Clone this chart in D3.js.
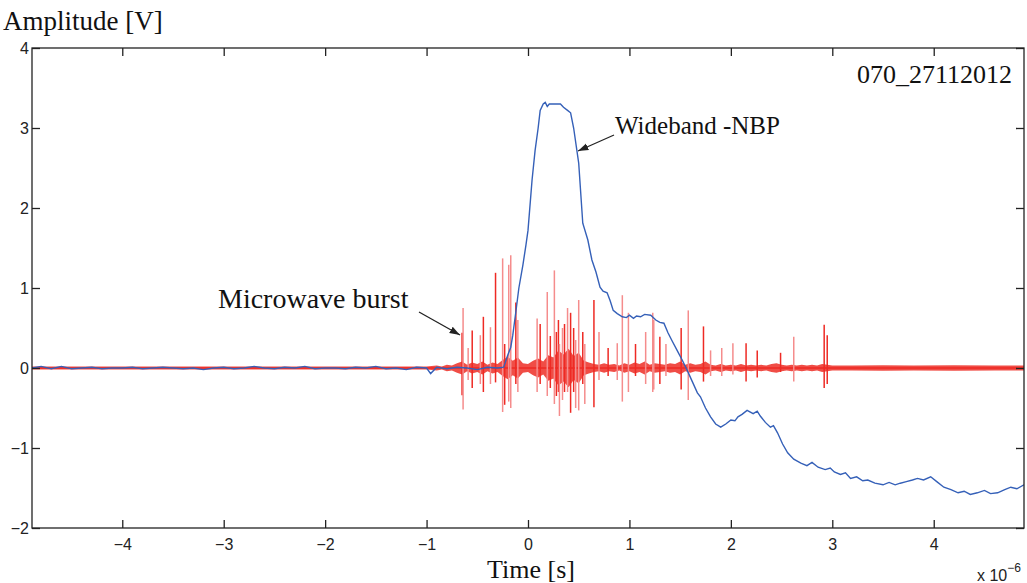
<!DOCTYPE html>
<html>
<head>
<meta charset="utf-8">
<script src="https://cdn.jsdelivr.net/npm/d3@7"></script>
<style>
  body { margin: 0; background: #fff; }
  .tick text { font-family: "Liberation Sans", Arial, sans-serif; font-size: 16px; fill: #222; }
  .lbl { font-family: "Liberation Serif", "Times New Roman", serif; fill: #111; }
</style>
</head>
<body>
<div id="chart"></div>
<script>

// ticks
let xTicks = [-4, -3, -2, -1, 0, 1, 2, 3, 4];
let yTicks = [-2, -1, 0, 1, 2, 3, 4];

// wideband NBP (blue), [time us, volts]
let blueSeries = [
  [-4.89,0.00],[-4.8,0.02],[-4.7,-0.01],[-4.6,0.02],[-4.5,-0.01],[-4.4,0.00],[-4.3,0.01],[-4.2,-0.01],
  [-4.1,0.00],[-4.0,0.00],[-3.9,0.01],[-3.8,-0.01],[-3.7,0.00],[-3.6,0.01],[-3.5,0.00],[-3.4,-0.01],
  [-3.3,0.00],[-3.2,-0.02],[-3.1,0.00],[-3.0,0.01],[-2.9,-0.01],[-2.8,0.00],[-2.7,0.02],[-2.6,0.00],
  [-2.5,-0.01],[-2.4,0.01],[-2.3,0.00],[-2.2,0.02],[-2.1,-0.01],[-2.0,0.00],[-1.9,0.00],[-1.8,-0.01],
  [-1.7,0.01],[-1.6,0.00],[-1.5,0.02],[-1.4,-0.01],[-1.3,0.00],[-1.2,-0.02],[-1.1,0.01],[-1.0,0.00],
  [-0.96,-0.07],[-0.9,0.01],[-0.8,-0.01],[-0.7,0.01],[-0.6,0.00],[-0.5,-0.02],[-0.4,0.01],[-0.3,0.00],
  [-0.24,0.01],[-0.2,0.16],[-0.17,0.26],[-0.15,0.41],[-0.12,0.7],[-0.09,1.0],[-0.05,1.29],[-0.02,1.54],
  [0.0,1.72],[0.04,2.35],[0.07,2.72],[0.10,3.0],[0.12,3.22],[0.15,3.30],[0.17,3.32],[0.19,3.27],
  [0.21,3.30],[0.27,3.30],[0.32,3.30],[0.35,3.26],[0.39,3.22],[0.42,3.19],[0.45,3.0],[0.50,2.56],
  [0.54,1.81],[0.59,1.6],[0.63,1.35],[0.67,1.2],[0.71,1.01],[0.74,0.96],[0.78,0.94],[0.81,0.84],
  [0.84,0.72],[0.88,0.68],[0.93,0.64],[0.97,0.63],[1.0,0.66],[1.04,0.62],[1.07,0.65],[1.11,0.64],
  [1.15,0.67],[1.21,0.66],[1.26,0.60],[1.30,0.57],[1.34,0.56],[1.38,0.44],[1.42,0.34],[1.47,0.22],
  [1.52,0.10],[1.57,-0.03],[1.62,-0.17],[1.67,-0.31],[1.70,-0.36],[1.75,-0.50],[1.80,-0.61],[1.85,-0.70],
  [1.90,-0.74],[1.95,-0.70],[2.0,-0.65],[2.04,-0.66],[2.07,-0.61],[2.11,-0.58],[2.16,-0.53],[2.22,-0.57],
  [2.26,-0.54],[2.29,-0.60],[2.34,-0.68],[2.39,-0.74],[2.42,-0.72],[2.46,-0.81],[2.51,-0.95],[2.56,-1.06],
  [2.62,-1.14],[2.69,-1.19],[2.75,-1.22],[2.80,-1.18],[2.86,-1.24],[2.93,-1.27],[2.98,-1.25],[3.02,-1.30],
  [3.08,-1.33],[3.13,-1.31],[3.18,-1.38],[3.24,-1.36],[3.30,-1.41],[3.35,-1.40],[3.42,-1.44],[3.50,-1.46],
  [3.56,-1.43],[3.62,-1.46],[3.67,-1.44],[3.73,-1.42],[3.79,-1.40],[3.84,-1.38],[3.90,-1.40],[3.97,-1.36],
  [4.03,-1.42],[4.10,-1.49],[4.17,-1.52],[4.24,-1.56],[4.30,-1.54],[4.36,-1.58],[4.43,-1.56],[4.50,-1.53],
  [4.56,-1.57],[4.63,-1.56],[4.70,-1.52],[4.76,-1.49],[4.82,-1.51],[4.89,-1.46]
];

// microwave noise envelope (red), [time us, half width volts]
let redNoise = [
  [-4.89,0.02],[-3.0,0.02],[-1.5,0.02],[-1.0,0.02],
  [-0.9,0.03],[-0.85,0.02],[-0.8,0.04],[-0.75,0.03],[-0.7,0.06],[-0.65,0.08],[-0.6,0.04],[-0.55,0.07],
  [-0.5,0.05],[-0.45,0.08],[-0.4,0.04],[-0.35,0.07],[-0.3,0.05],[-0.25,0.10],[-0.2,0.14],[-0.15,0.09],
  [-0.1,0.13],[-0.05,0.06],[0.0,0.05],[0.05,0.09],[0.1,0.12],[0.15,0.08],[0.2,0.16],[0.25,0.13],
  [0.3,0.22],[0.35,0.17],[0.4,0.24],[0.45,0.15],[0.5,0.19],[0.55,0.09],[0.6,0.07],[0.65,0.05],
  [0.7,0.04],[0.75,0.06],[0.8,0.04],[0.85,0.05],[0.9,0.03],[0.95,0.06],[1.0,0.04],[1.05,0.07],
  [1.1,0.05],[1.15,0.08],[1.2,0.04],[1.25,0.06],[1.3,0.05],[1.35,0.04],[1.4,0.06],[1.45,0.05],
  [1.5,0.08],[1.55,0.04],[1.6,0.06],[1.65,0.04],[1.7,0.05],[1.75,0.08],[1.8,0.04],[1.85,0.03],
  [1.9,0.05],[1.95,0.03],[2.0,0.04],[2.05,0.03],[2.1,0.05],[2.15,0.03],[2.2,0.04],[2.25,0.03],
  [2.3,0.04],[2.35,0.03],[2.4,0.05],[2.45,0.06],[2.5,0.04],[2.55,0.03],[2.6,0.04],[2.65,0.03],
  [2.7,0.04],[2.75,0.03],[2.8,0.04],[2.85,0.03],[2.9,0.05],[2.95,0.04],[3.0,0.03],[3.2,0.03],
  [3.5,0.035],[3.8,0.03],[4.2,0.035],[4.6,0.03],[4.89,0.03]
];

// microwave spikes: [time us, top V, bottom V, faint 0/1]
let redSpikes = [
  [-0.65,0.44,-0.34,0],[-0.64,0.75,-0.52,1],[-0.59,0.25,-0.15,1],[-0.55,0.47,-0.25,0],
  [-0.47,0.41,-0.20,1],[-0.44,0.64,-0.30,0],[-0.37,0.51,-0.20,1],[-0.32,1.19,-0.18,0],
  [-0.25,1.37,-0.55,1],[-0.23,0.30,-0.46,0],[-0.19,1.29,-0.42,1],[-0.17,1.41,-0.50,1],
  [-0.12,0.82,-0.20,0],[-0.10,0.60,-0.30,1],[0.09,0.62,-0.30,1],[0.12,0.55,-0.20,0],
  [0.19,0.95,-0.35,1],[0.22,0.40,-0.25,0],[0.26,1.22,-0.45,1],[0.28,0.45,-0.35,0],
  [0.30,0.60,-0.30,0],[0.31,0.30,-0.60,1],[0.34,0.50,-0.40,1],[0.36,0.55,-0.30,0],
  [0.39,0.75,-0.30,1],[0.42,0.69,-0.56,0],[0.45,0.50,-0.30,0],[0.47,0.35,-0.50,1],
  [0.50,0.85,-0.53,1],[0.54,0.45,-0.20,0],[0.56,0.30,-0.45,1],[0.65,0.85,-0.49,0],
  [0.70,0.45,-0.15,1],[0.79,0.25,-0.10,0],[0.88,0.31,-0.15,1],[0.93,0.91,-0.42,1],
  [0.99,0.69,-0.30,1],[1.06,0.30,-0.10,0],[1.16,0.45,-0.20,1],[1.23,0.69,-0.30,1],
  [1.24,0.60,-0.27,1],[1.30,0.39,-0.20,0],[1.36,0.30,-0.10,1],[1.51,0.50,-0.27,0],
  [1.58,0.72,-0.40,1],[1.73,0.52,-0.17,0],[1.80,0.22,-0.10,1],[1.91,0.25,-0.10,1],
  [2.02,0.31,-0.08,1],[2.15,0.31,-0.17,0],[2.26,0.22,-0.12,0],[2.49,0.19,-0.05,0],
  [2.62,0.39,-0.17,1],[2.92,0.54,-0.25,0],[2.95,0.41,-0.20,0]
];

let svgWidth = 1027, svgHeight = 583;
let margin = {top: 48, right: 3, bottom: 55, left: 32};
let width = svgWidth - margin.left - margin.right,
    height = svgHeight - margin.top - margin.bottom;

let x = d3.scaleLinear().domain([-4.89, 4.89]).range([0, width]);
let y = d3.scaleLinear().domain([-2, 4]).range([height, 0]);

let svg = d3.select("#chart").append("svg")
    .attr("width", svgWidth)
    .attr("height", svgHeight);

let g = svg.append("g")
    .attr("transform", "translate(" + margin.left + "," + margin.top + ")");

let clip = g.append("clipPath").attr("id", "plot-clip");
clip.append("rect").attr("width", width).attr("height", height);

let plot = g.append("g").attr("clip-path", "url(#plot-clip)");

// red noise band
plot.append("path")
    .datum(redNoise)
    .attr("d", d3.area()
        .x(function(d) { return x(d[0]); })
        .y0(function(d) { return y(-d[1]); })
        .y1(function(d) { return y(d[1]); }))
    .attr("fill", "#ee3a32")
    .attr("opacity", 0.9);

plot.append("line")
    .attr("x1", 0).attr("x2", width)
    .attr("y1", y(0)).attr("y2", y(0))
    .attr("stroke", "#ee2a24")
    .attr("stroke-width", 1.5);

// red spikes
plot.selectAll(".spike")
    .data(redSpikes)
    .enter()
    .append("line")
    .attr("class", "spike")
    .attr("x1", function(d) { return x(d[0]); })
    .attr("x2", function(d) { return x(d[0]); })
    .attr("y1", function(d) { return y(d[1]); })
    .attr("y2", function(d) { return y(d[2]); })
    .attr("stroke", function(d) { return d[3] ? "#f58c8c" : "#ee2a24"; })
    .attr("stroke-width", 1.5);

// blue curve
plot.append("path")
    .datum(blueSeries)
    .attr("d", d3.line()
        .x(function(d) { return x(d[0]); })
        .y(function(d) { return y(d[1]); }))
    .attr("fill", "none")
    .attr("stroke", "#3560b8")
    .attr("stroke-width", 1.4);

// axes with inward ticks
let fmt = d3.format("d");
g.append("g")
    .attr("transform", "translate(0," + height + ")")
    .call(d3.axisBottom(x).tickValues(xTicks).tickSizeInner(-8).tickSizeOuter(0).tickPadding(11).tickFormat(fmt))
    .call(function(a) { a.select(".domain").remove(); });

g.append("g")
    .call(d3.axisTop(x).tickValues(xTicks).tickSizeInner(-8).tickSizeOuter(0).tickFormat(""))
    .call(function(a) { a.select(".domain").remove(); });

g.append("g")
    .call(d3.axisLeft(y).tickValues(yTicks).tickSizeInner(-8).tickSizeOuter(0).tickPadding(3).tickFormat(fmt))
    .call(function(a) { a.select(".domain").remove(); });

g.append("g")
    .attr("transform", "translate(" + width + ",0)")
    .call(d3.axisRight(y).tickValues(yTicks).tickSizeInner(-8).tickSizeOuter(0).tickFormat(""))
    .call(function(a) { a.select(".domain").remove(); });

g.selectAll(".tick line").attr("stroke", "#222").attr("stroke-width", 1.3);

g.append("rect")
    .attr("width", width).attr("height", height)
    .attr("fill", "none")
    .attr("stroke", "#222")
    .attr("stroke-width", 1.3);

// labels
svg.append("text").attr("class", "lbl")
    .attr("x", 3).attr("y", 30)
    .attr("font-size", 27)
    .text("Amplitude [V]");

svg.append("text").attr("class", "lbl")
    .attr("x", 531).attr("y", 578)
    .attr("text-anchor", "middle")
    .attr("font-size", 26)
    .text("Time [s]");

let mult = svg.append("text")
    .attr("x", 977).attr("y", 581)
    .attr("font-family", "Liberation Sans, Arial, sans-serif")
    .attr("font-size", 16)
    .attr("fill", "#222");
mult.append("tspan").text("x 10");
mult.append("tspan").attr("dy", -9).attr("font-size", 12).text("\u22126");

svg.append("text").attr("class", "lbl")
    .attr("x", 1012).attr("y", 83)
    .attr("text-anchor", "end")
    .attr("font-size", 26)
    .text("070_27112012");

svg.append("text").attr("class", "lbl")
    .attr("x", 615).attr("y", 134)
    .attr("font-size", 25)
    .text("Wideband -NBP");

svg.append("text").attr("class", "lbl")
    .attr("x", 218).attr("y", 308)
    .attr("font-size", 28)
    .text("Microwave burst");

// arrows
let defs = svg.append("defs");
defs.append("marker")
    .attr("id", "arrow")
    .attr("viewBox", "0 0 10 10")
    .attr("refX", 10).attr("refY", 5)
    .attr("markerWidth", 8).attr("markerHeight", 8)
    .attr("orient", "auto")
    .append("path")
    .attr("d", "M0,1.5 L10,5 L0,8.5 Z")
    .attr("fill", "#222");

svg.append("line")
    .attr("x1", 614).attr("y1", 135)
    .attr("x2", 578).attr("y2", 151)
    .attr("stroke", "#222").attr("stroke-width", 1.3)
    .attr("marker-end", "url(#arrow)");

svg.append("line")
    .attr("x1", 419).attr("y1", 312)
    .attr("x2", 460).attr("y2", 335)
    .attr("stroke", "#222").attr("stroke-width", 1.3)
    .attr("marker-end", "url(#arrow)");

</script>
</body>
</html>
